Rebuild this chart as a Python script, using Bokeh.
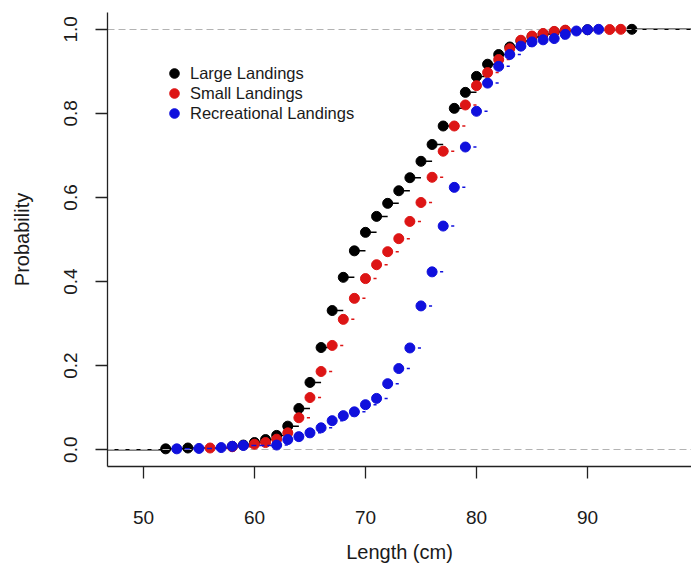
import math
from bokeh.plotting import figure
from bokeh.models import Range1d, FixedTicker, Legend, LegendItem, ColumnDataSource, PrintfTickFormatter
from bokeh.embed import file_html
from bokeh.resources import INLINE

large_x = [52, 54, 58, 59, 60, 61, 62, 63, 64, 65, 66, 67, 68, 69, 70, 71, 72, 73, 74, 75,
           76, 77, 78, 79, 80, 81, 82, 83, 84, 85, 86, 87, 88, 90, 94]
large_y = [0.002, 0.004, 0.008, 0.011, 0.017, 0.024, 0.034, 0.056, 0.098, 0.160, 0.243, 0.331,
           0.410, 0.473, 0.517, 0.555, 0.586, 0.616, 0.647, 0.686, 0.726, 0.770, 0.812, 0.850,
           0.888, 0.917, 0.940, 0.958, 0.972, 0.982, 0.989, 0.994, 0.997, 0.999, 1.000]

small_x = [56, 58, 60, 61, 62, 63, 64, 65, 66, 67, 68, 69, 70, 71, 72, 73, 74, 75, 76, 77,
           78, 79, 80, 81, 82, 83, 84, 85, 86, 87, 88, 92, 93]
small_y = [0.004, 0.007, 0.013, 0.017, 0.025, 0.040, 0.076, 0.124, 0.186, 0.248, 0.310, 0.360,
           0.407, 0.440, 0.471, 0.502, 0.543, 0.588, 0.648, 0.710, 0.770, 0.820, 0.866, 0.897,
           0.928, 0.954, 0.974, 0.984, 0.990, 0.995, 0.998, 0.9995, 1.000]

rec_x = [53, 55, 57, 58, 59, 62, 63, 64, 65, 66, 67, 68, 69, 70, 71, 72, 73, 74, 75, 76,
         77, 78, 79, 80, 81, 82, 83, 84, 85, 86, 87, 88, 89, 90, 91]
rec_y = [0.002, 0.003, 0.005, 0.008, 0.010, 0.011, 0.024, 0.031, 0.040, 0.052, 0.069, 0.081,
         0.090, 0.107, 0.122, 0.157, 0.193, 0.242, 0.342, 0.423, 0.532, 0.624, 0.720, 0.805,
         0.872, 0.912, 0.940, 0.960, 0.970, 0.975, 0.978, 0.988, 0.996, 0.999, 1.000]

series_names = ["Large Landings", "Small Landings", "Recreational Landings"]
series_colors = ["#000000", "#dd1515", "#1010dd"]

x_ticks = [50, 60, 70, 80, 90]
y_ticks = [0.0, 0.2, 0.4, 0.6, 0.8, 1.0]
ref_levels = [0, 1]

FONT = "Liberation Sans"

p = figure(width=691, height=568, output_backend="svg", toolbar_location=None,
           x_range=Range1d(46.76, 99.37), y_range=Range1d(-0.04, 1.04),
           min_border_left=107, min_border_right=0, min_border_top=12, min_border_bottom=102)
p.outline_line_color = None
p.xgrid.visible = False
p.ygrid.visible = False
p.background_fill_color = "white"


def steps(xs, ys):
    return ColumnDataSource(dict(x0=xs[:-1], x1=xs[1:], y=ys[:-1]))


# Large landings: solid steps, extensions, points
p.segment(x0="x0", x1="x1", y0="y", y1="y", source=steps(large_x, large_y),
          line_color=series_colors[0], line_width=1.5)
p.ray(x=[large_x[0]], y=[ref_levels[0]], length=0, angle=math.pi,
      line_color=series_colors[0], line_width=1.5)
p.ray(x=[large_x[-1]], y=[ref_levels[1]], length=0, angle=0,
      line_color=series_colors[0], line_width=1.5)
r_large = p.scatter(large_x, large_y, size=10, color=series_colors[0])

# reference lines at 0 and 1
p.hspan(y=ref_levels, line_color="#b3b3b3", line_dash="7 4", line_width=1.2)

# Small landings: dashed steps, points
p.segment(x0="x0", x1="x1", y0="y", y1="y", source=steps(small_x, small_y),
          line_color=series_colors[1], line_width=1.5, line_dash="5 3")
r_small = p.scatter(small_x, small_y, size=10, color=series_colors[1])

# Recreational landings
p.segment(x0="x0", x1="x1", y0="y", y1="y", source=steps(rec_x, rec_y),
          line_color=series_colors[2], line_width=1.5, line_dash="5 3")
r_rec = p.scatter(rec_x, rec_y, size=10, color=series_colors[2])

# axes
for ax in (p.xaxis[0], p.yaxis[0]):
    ax.axis_line_color = "#222222"
    ax.axis_line_width = 1.3
    ax.major_tick_line_color = "#222222"
    ax.major_tick_line_width = 1.3
    ax.major_tick_in = 0
    ax.major_tick_out = 12
    ax.minor_tick_line_color = None
    ax.major_label_text_font = FONT
    ax.major_label_text_font_size = "19px"
    ax.major_label_text_color = "#1a1a1a"
    ax.axis_label_text_font = FONT
    ax.axis_label_text_font_size = "20px"
    ax.axis_label_text_font_style = "normal"
    ax.axis_label_text_color = "#1a1a1a"

p.xaxis.ticker = FixedTicker(ticks=x_ticks)
p.yaxis.ticker = FixedTicker(ticks=y_ticks)
p.yaxis.formatter = PrintfTickFormatter(format="%.1f")
p.yaxis.major_label_orientation = "vertical"
p.xaxis.axis_label = "Length (cm)"
p.yaxis.axis_label = "Probability"
p.xaxis.major_label_standoff = 32
p.xaxis.axis_label_standoff = 14
p.yaxis.major_label_standoff = 18
p.yaxis.axis_label_standoff = 29

# legend: one single-row legend per series so rows sit 20 px apart with large dots
renderers = [r_large, r_small, r_rec]
row_offsets = [381, 361, 341]
for name, rend, off in zip(series_names, renderers, row_offsets):
    lg = Legend(items=[LegendItem(label=name, renderers=[rend])],
                location=(55, off), border_line_color=None, background_fill_alpha=0,
                padding=0, margin=0, spacing=0, glyph_width=24, glyph_height=24,
                label_height=20, label_standoff=4, label_text_font=FONT,
                label_text_font_size="16.5px", label_text_color="#1a1a1a")
    p.add_layout(lg)

open("out.html", "w").write(file_html(p, INLINE))
